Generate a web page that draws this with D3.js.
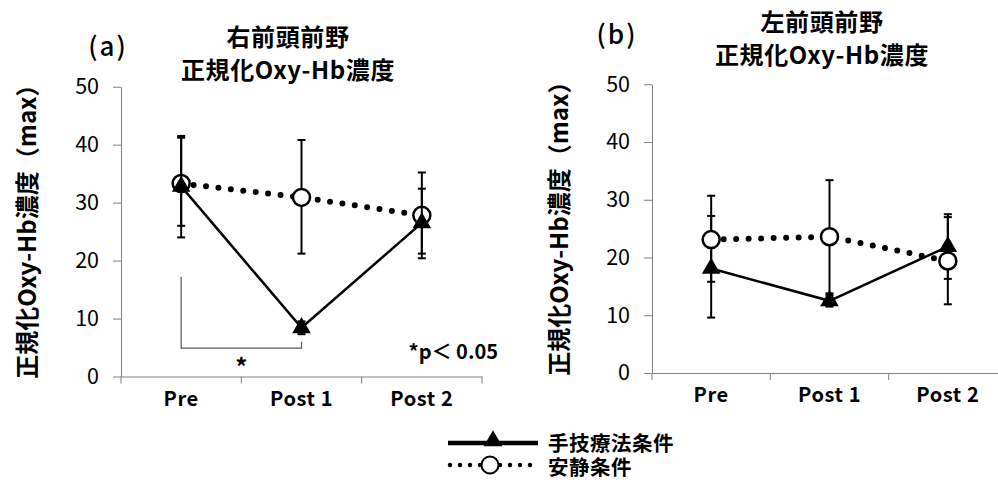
<!DOCTYPE html>
<html>
<head>
<meta charset="utf-8">
<script src="https://cdn.jsdelivr.net/npm/d3@7"></script>
<style>
  body { margin: 0; background: #fff; }
  text { font-family: "Noto Sans CJK JP", "Noto Sans", sans-serif; fill: #000; }
</style>
</head>
<body>
<div id="chart"></div>
<script>
"use strict";

const categories = ["Pre", "Post 1", "Post 2"];
const yTicks = [0, 10, 20, 30, 40, 50];

// (a) right prefrontal
const rightManual = [32.8, 8.4, 26.5];
const rightManualHi = [41.5, 9.5, 32.4];
const rightManualLo = [24.0, 7.3, 21.2];
const rightRest = [33.3, 30.9, 27.8];
const rightRestHi = [41.2, 40.8, 35.2];
const rightRestLo = [26.0, 21.2, 20.4];

// (b) left prefrontal
const leftManual = [18.1, 12.5, 21.9];
const leftManualHi = [27.2, 13.5, 27.5];
const leftManualLo = [9.6, 11.5, 16.3];
const leftRest = [23.1, 23.6, 19.4];
const leftRestHi = [30.7, 33.4, 27.0];
const leftRestLo = [15.8, 13.8, 11.9];

const legendLabels = ["手技療法条件", "安静条件"];

const svg = d3.select("#chart")
  .append("svg")
  .attr("width", 998)
  .attr("height", 480)
;

const panels = [
  {
    tag: "(a)", tagX: 108, tagY: 56,
    title: ["右前頭前野", "正規化Oxy-Hb濃度"], titleX: 288, titleY: 46,
    x0: 121, x1: 482, y0: 376.5, yTop: 86.7, labelX: 25,
    manual: [rightManual, rightManualHi, rightManualLo],
    rest: [rightRest, rightRestHi, rightRestLo],
    restOnTop: false,
    bracket: { from: "Pre", to: "Post 1", top: 17.2, base: 4.9, rightTop: 6.0 }
  },
  {
    tag: "(b)", tagX: 617, tagY: 44,
    title: ["左前頭前野", "正規化Oxy-Hb濃度"], titleX: 822, titleY: 31,
    x0: 652, x1: 1007, y0: 373, yTop: 84.3, labelX: 557,
    manual: [leftManual, leftManualHi, leftManualLo],
    rest: [leftRest, leftRestHi, leftRestLo],
    restOnTop: true,
    bracket: null
  }
];

const triangle = d3.symbol().type(d3.symbolTriangle).size(150);

function drawSeries(g, xScale, yScale, series, kind) {
  const [vals, hi, lo] = series;
  const cx = c => xScale(c) + xScale.bandwidth() / 2;
  const pts = categories.map((c, i) => ({ c, v: vals[i], hi: hi[i], lo: lo[i] }));

  const eb = g.append("g");
  pts.forEach(p => {
    eb.append("line")
      .attr("x1", cx(p.c)).attr("x2", cx(p.c))
      .attr("y1", yScale(p.hi)).attr("y2", yScale(p.lo))
      .attr("stroke", "#000").attr("stroke-width", 2);
    [p.hi, p.lo].forEach(v => {
      eb.append("line")
        .attr("x1", cx(p.c) - 4).attr("x2", cx(p.c) + 4)
        .attr("y1", yScale(v)).attr("y2", yScale(v))
        .attr("stroke", "#000").attr("stroke-width", 2);
    });
  });

  const line = d3.line().x(d => cx(d.c)).y(d => yScale(d.v));
  if (kind === "manual") {
    g.append("path").datum(pts)
      .attr("d", line)
      .attr("fill", "none").attr("stroke", "#000").attr("stroke-width", 2.5);
    g.selectAll(null).data(pts).enter().append("path")
      .attr("d", triangle)
      .attr("transform", d => `translate(${cx(d.c)},${yScale(d.v)})`)
      .attr("fill", "#000");
  } else {
    g.append("path").datum(pts)
      .attr("d", line)
      .attr("fill", "none").attr("stroke", "#000").attr("stroke-width", 6)
      .attr("stroke-linecap", "round").attr("stroke-dasharray", "0 12.5");
    g.selectAll(null).data(pts).enter().append("circle")
      .attr("cx", d => cx(d.c)).attr("cy", d => yScale(d.v)).attr("r", 8.5)
      .attr("fill", "#fff").attr("stroke", "#000").attr("stroke-width", 2.5);
  }
}

panels.forEach(p => {
  const g = svg.append("g");
  const xScale = d3.scaleBand().domain(categories).range([p.x0, p.x1]);
  const yScale = d3.scaleLinear().domain([0, 50]).range([p.y0, p.yTop]);

  // y axis
  const yAxis = g.append("g")
    .attr("transform", `translate(${p.x0},0)`)
    .call(d3.axisLeft(yScale).tickValues(yTicks).tickSize(8).tickSizeOuter(0).tickPadding(14));
  yAxis.select(".domain").attr("stroke", "#808080");
  yAxis.selectAll(".tick line").attr("stroke", "#808080");
  yAxis.selectAll(".tick text")
    .style("font-size", "21.5px").attr("fill", "#1a1a1a");

  // x axis: labels at band centres, ticks at band edges
  const xAxis = g.append("g")
    .attr("transform", `translate(0,${p.y0})`)
    .call(d3.axisBottom(xScale).tickSize(0).tickSizeOuter(0).tickPadding(15));
  xAxis.select(".domain").attr("stroke", "#808080");
  xAxis.selectAll(".tick text")
    .style("font-size", "20px").style("font-weight", "bold").style("letter-spacing", "0.6px");
  const edges = categories.map(c => xScale(c)).concat([p.x1]);
  g.selectAll(null).data(edges).enter().append("line")
    .attr("x1", d => d).attr("x2", d => d)
    .attr("y1", p.y0).attr("y2", p.y0 + 7)
    .attr("stroke", "#808080");

  // axis label
  g.append("text")
    .attr("transform", `translate(${p.labelX},${(p.y0 + p.yTop) / 2 - 6}) rotate(-90)`)
    .attr("text-anchor", "middle").attr("dominant-baseline", "central")
    .style("font-size", "24px").style("font-weight", "bold")
    .text("正規化Oxy-Hb濃度（max）");

  // titles
  g.append("text")
    .attr("x", p.tagX).attr("y", p.tagY).attr("text-anchor", "middle")
    .style("font-size", "26px").style("font-weight", "500").style("letter-spacing", "2px")
    .text(p.tag);
  p.title.forEach((t, i) => {
    g.append("text")
      .attr("x", p.titleX).attr("y", p.titleY + i * 33).attr("text-anchor", "middle")
      .style("font-size", "24px").style("font-weight", "bold").style("letter-spacing", "0.6px")
      .text(t);
  });

  if (p.restOnTop) {
    drawSeries(g, xScale, yScale, p.manual, "manual");
    drawSeries(g, xScale, yScale, p.rest, "rest");
  } else {
    drawSeries(g, xScale, yScale, p.rest, "rest");
    drawSeries(g, xScale, yScale, p.manual, "manual");
  }

  if (p.bracket) {
    const b = p.bracket;
    const bx0 = xScale(b.from) + xScale.bandwidth() / 2;
    const bx1 = xScale(b.to) + xScale.bandwidth() / 2;
    g.append("path")
      .attr("d", `M${bx0},${yScale(b.top)}V${yScale(b.base)}H${bx1}V${yScale(b.rightTop)}`)
      .attr("fill", "none").attr("stroke", "#555").attr("stroke-width", 1.2);
    g.append("text")
      .attr("x", (bx0 + bx1) / 2).attr("y", yScale(b.base) + 28).attr("text-anchor", "middle")
      .style("font-size", "24px").style("font-weight", "bold")
      .text("*");
    g.append("text")
      .attr("x", p.x1 + 16).attr("y", yScale(b.base) + 11).attr("text-anchor", "end")
      .style("font-size", "20px").style("font-weight", "bold")
      .text("*p＜ 0.05");
  }
});

// legend
const legend = svg.append("g");
legend.append("line")
  .attr("x1", 448).attr("x2", 538).attr("y1", 443).attr("y2", 443)
  .attr("stroke", "#000").attr("stroke-width", 4.5);
legend.append("path")
  .attr("d", triangle).attr("transform", "translate(493,441)").attr("fill", "#000");
legend.append("line")
  .attr("x1", 450).attr("x2", 538).attr("y1", 465).attr("y2", 465)
  .attr("stroke", "#000").attr("stroke-width", 4.5)
  .attr("stroke-linecap", "round").attr("stroke-dasharray", "0 10");
legend.append("circle")
  .attr("cx", 490).attr("cy", 465).attr("r", 8.5)
  .attr("fill", "#fff").attr("stroke", "#000").attr("stroke-width", 2);
legendLabels.forEach((t, i) => {
  legend.append("text")
    .attr("x", 548).attr("y", 442 + i * 24).attr("dominant-baseline", "central")
    .style("font-size", "20.5px").style("font-weight", "bold").style("letter-spacing", "0.5px")
    .text(t);
});
</script>
</body>
</html>
